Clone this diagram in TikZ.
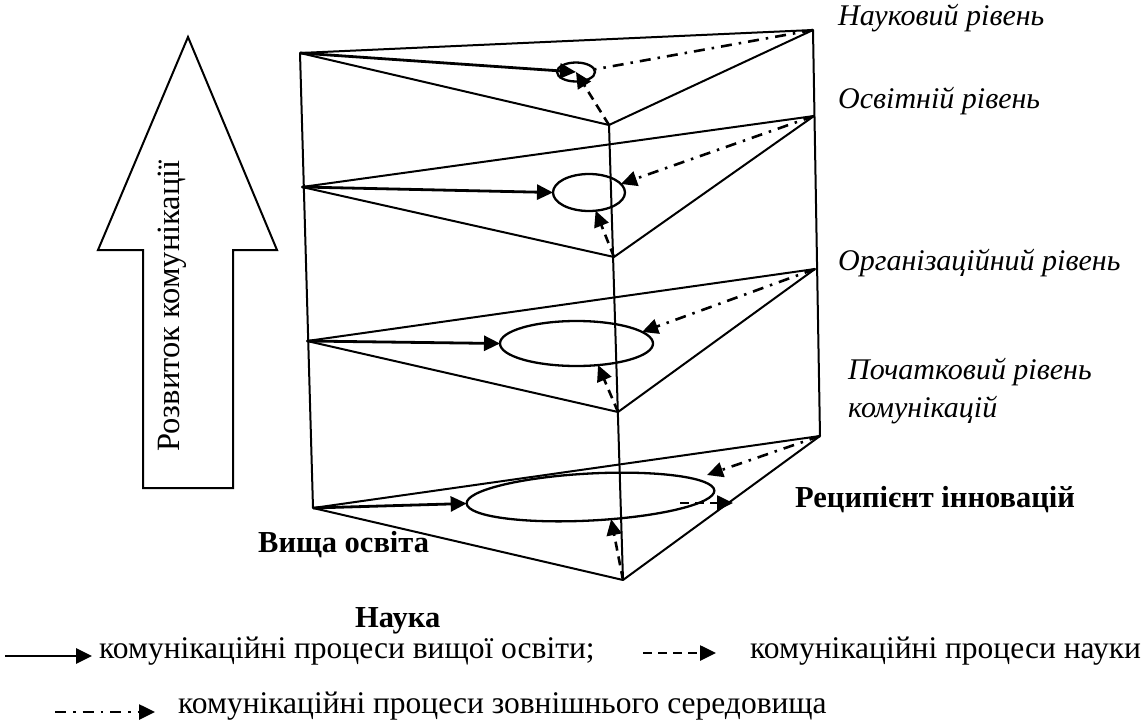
\documentclass[tikz,border=0pt]{standalone}
\usepackage{fontspec}
\setmainfont{Liberation Serif}
\usetikzlibrary{arrows.meta,shapes.geometric,calc}

\begin{document}
\begin{tikzpicture}[x=1pt,y=-1pt,
  edge/.style={line width=2pt,line join=round},
  tipshape/.style={-{Triangle[length=16pt,width=15pt]}},
  eduflow/.style={line width=2.8pt,tipshape},
  sciflow/.style={line width=2.6pt,dash pattern=on 9pt off 6pt,tipshape},
  envline/.style={line width=2.6pt,dash pattern=on 11pt off 7pt on 2.5pt off 7pt},
  envflow/.style={envline,tipshape},
  lvl/.style={ellipse,draw,line width=2.3pt,inner sep=0pt,outer sep=0pt},
  txt/.style={inner sep=0pt,text height=0.7em,text depth=0.25em,
    font=\fontsize{31.5}{36}\selectfont},
  levlab/.style={txt,anchor=west,font=\fontsize{30}{34}\selectfont\itshape},
  boldlab/.style={txt,anchor=west,font=\fontsize{30.5}{35}\selectfont\bfseries},
  legtxt/.style={txt,anchor=west}
]
\useasboundingbox (0,0) rectangle (1144,728);

% block arrow: growth of communication
\draw[line width=2pt,line join=miter]
  (188,37) -- (277,250) -- (233,250) -- (233,488) -- (143,488)
  -- (143,250) -- (98,250) -- cycle;
\node[txt,rotate=90,font=\fontsize{32.5}{36}\selectfont] (growth) at (177,306) {Розвиток комунікації};

% prism vertices: A = higher education, B = science, C = recipient
\coordinate (A1) at (300,53);  \coordinate (B1) at (609,125); \coordinate (C1) at (813,30);
\coordinate (A2) at (302,187); \coordinate (B2) at (614,257); \coordinate (C2) at (814,116);
\coordinate (A3) at (307,341); \coordinate (B3) at (618,412); \coordinate (C3) at (815,269);
\coordinate (A4) at (313,508); \coordinate (B4) at (623,580); \coordinate (C4) at (820,436);

% vertical edges
\draw[edge] (A1) -- (A4);
\draw[edge] (B1) -- (B4);
\draw[edge] (C1) -- (C4);

% level triangles
\foreach \i in {1,2,3,4}{
  \draw[edge] (A\i) -- (B\i) -- (C\i) -- cycle;
}

% communication zones
\node[lvl,minimum width=38pt,minimum height=19pt] (e1) at (576,72) {};
\node[lvl,minimum width=72pt,minimum height=37pt] (e2) at (589,192.5) {};
\node[lvl,minimum width=153pt,minimum height=45pt] (e3) at (576.5,343.5) {};
\node[lvl,minimum width=248pt,minimum height=47pt,rotate=3] (e4) at (590.5,497) {};

% level 1 flows
\draw[envline] (C1) -- (e1.8);
\draw[eduflow] (A1) -- (e1.center);
\draw[sciflow] (B1) -- (e1.center);

% level 2 flows
\draw[eduflow] (A2) -- (e2.west);
\draw[envflow] (C2) -- (e2.15);
\draw[sciflow] (B2) -- (e2.-70);

% level 3 flows
\draw[eduflow] (A3) -- (e3.west);
\draw[envflow] (C3) -- (e3.10);
\draw[sciflow] (B3) -- (e3.-45);

% level 4 flows
\coordinate (env4) at (707,475);
\coordinate (out4a) at (680,503);
\coordinate (out4b) at (733,503);
\draw[eduflow] (A4) -- (e4.west);
\draw[envflow] (C4) -- (env4);
\draw[sciflow] (B4) -- (e4.-50);
\draw[sciflow] (out4a) -- (out4b);

% level labels
\node[levlab] (l1) at (838,23) {Науковий рівень};
\node[levlab] (l2) at (838,106) {Освітній рівень};
\node[levlab] (l3) at (838,268) {Організаційний рівень};
\node[levlab] (l4a) at (848,377) {Початковий рівень};
\node[levlab] (l4b) at (848,415) {комунікацій};

% corner labels
\node[boldlab] (rec) at (795,505) {Реципієнт інновацій};
\node[boldlab] (edu) at (258,550) {Вища освіта};
\node[boldlab] (sci) at (355,625) {Наука};

% legend
\coordinate (k1a) at (5,656);   \coordinate (k1b) at (92,656);
\coordinate (k2a) at (643,653); \coordinate (k2b) at (716,653);
\coordinate (k3a) at (55,712);  \coordinate (k3b) at (155,712);
\draw[eduflow] (k1a) -- (k1b);
\draw[sciflow] (k2a) -- (k2b);
\draw[envflow] (k3a) -- (k3b);
\node[legtxt] (t1) at (99,656) {комунікаційні процеси вищої освіти;};
\node[legtxt] (t2) at (750,656) {комунікаційні процеси науки};
\node[legtxt] (t3) at (178,711) {комунікаційні процеси зовнішнього середовища};
\end{tikzpicture}
\end{document}
